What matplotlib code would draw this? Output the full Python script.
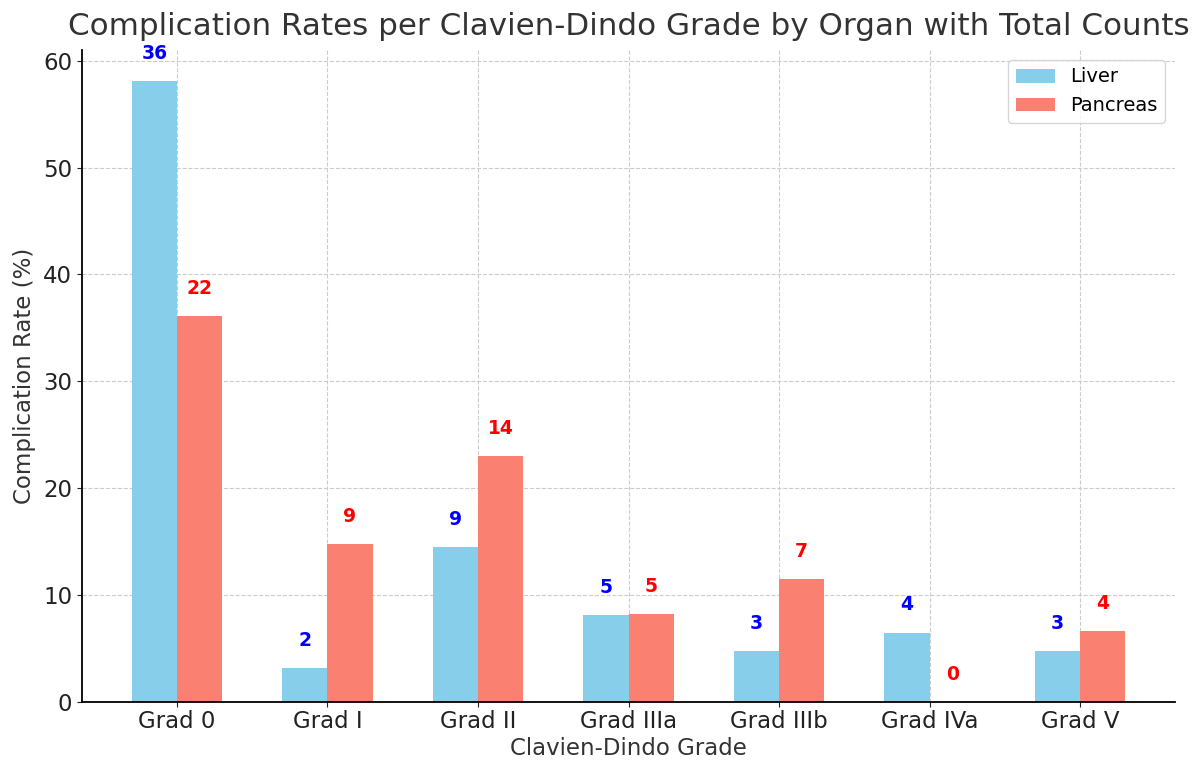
import matplotlib
matplotlib.use("Agg")
import matplotlib.pyplot as plt
import numpy as np

grades = ["Grad 0", "Grad I", "Grad II", "Grad IIIa", "Grad IIIb", "Grad IVa", "Grad V"]
liver_rate = [58.1, 3.2, 14.5, 8.1, 4.8, 6.5, 4.8]
pancreas_rate = [36.1, 14.8, 23.0, 8.2, 11.5, 0.0, 6.6]
liver_count = [36, 2, 9, 5, 3, 4, 3]
pancreas_count = [22, 9, 14, 5, 7, 0, 4]

fig = plt.figure(figsize=(12.01, 7.6), dpi=100)
ax = fig.add_axes([82 / 1201, 58 / 760, 1093 / 1201, 652 / 760])

x = np.arange(len(grades))
w = 0.3
ax.bar(x - w / 2, liver_rate, w, color="skyblue", label="Liver", zorder=2)
ax.bar(x + w / 2, pancreas_rate, w, color="salmon", label="Pancreas", zorder=2)

# counts above each bar
for i in range(len(grades)):
    ax.text(x[i] - w / 2, liver_rate[i] + 1.7, str(liver_count[i]), ha="center", va="bottom",
            color="blue", fontsize=13.5, fontweight="bold")
    ax.text(x[i] + w / 2, pancreas_rate[i] + 1.7, str(pancreas_count[i]), ha="center", va="bottom",
            color="red", fontsize=13.5, fontweight="bold")

ax.set_xticks(x)
ax.set_xticklabels(grades)
ax.tick_params(labelsize=16.5, colors="#222222")
ax.tick_params(axis="x", pad=2)
ax.set_xlabel("Clavien-Dindo Grade", fontsize=16.5, color="#333333", labelpad=3)
ax.set_ylabel("Complication Rate (%)", fontsize=16.5, color="#333333", labelpad=5)
ax.set_title("Complication Rates per Clavien-Dindo Grade by Organ with Total Counts",
             fontsize=22.3, color="#333333", pad=11)
ax.grid(True, linestyle="--", color="#cccccc", linewidth=0.8, zorder=0)
ax.spines["top"].set_visible(False)
ax.spines["right"].set_visible(False)
ax.spines["left"].set_linewidth(1.3)
ax.spines["bottom"].set_linewidth(1.3)
ax.legend(fontsize=14, loc="upper right")

fig.savefig("out.png", dpi=100)
